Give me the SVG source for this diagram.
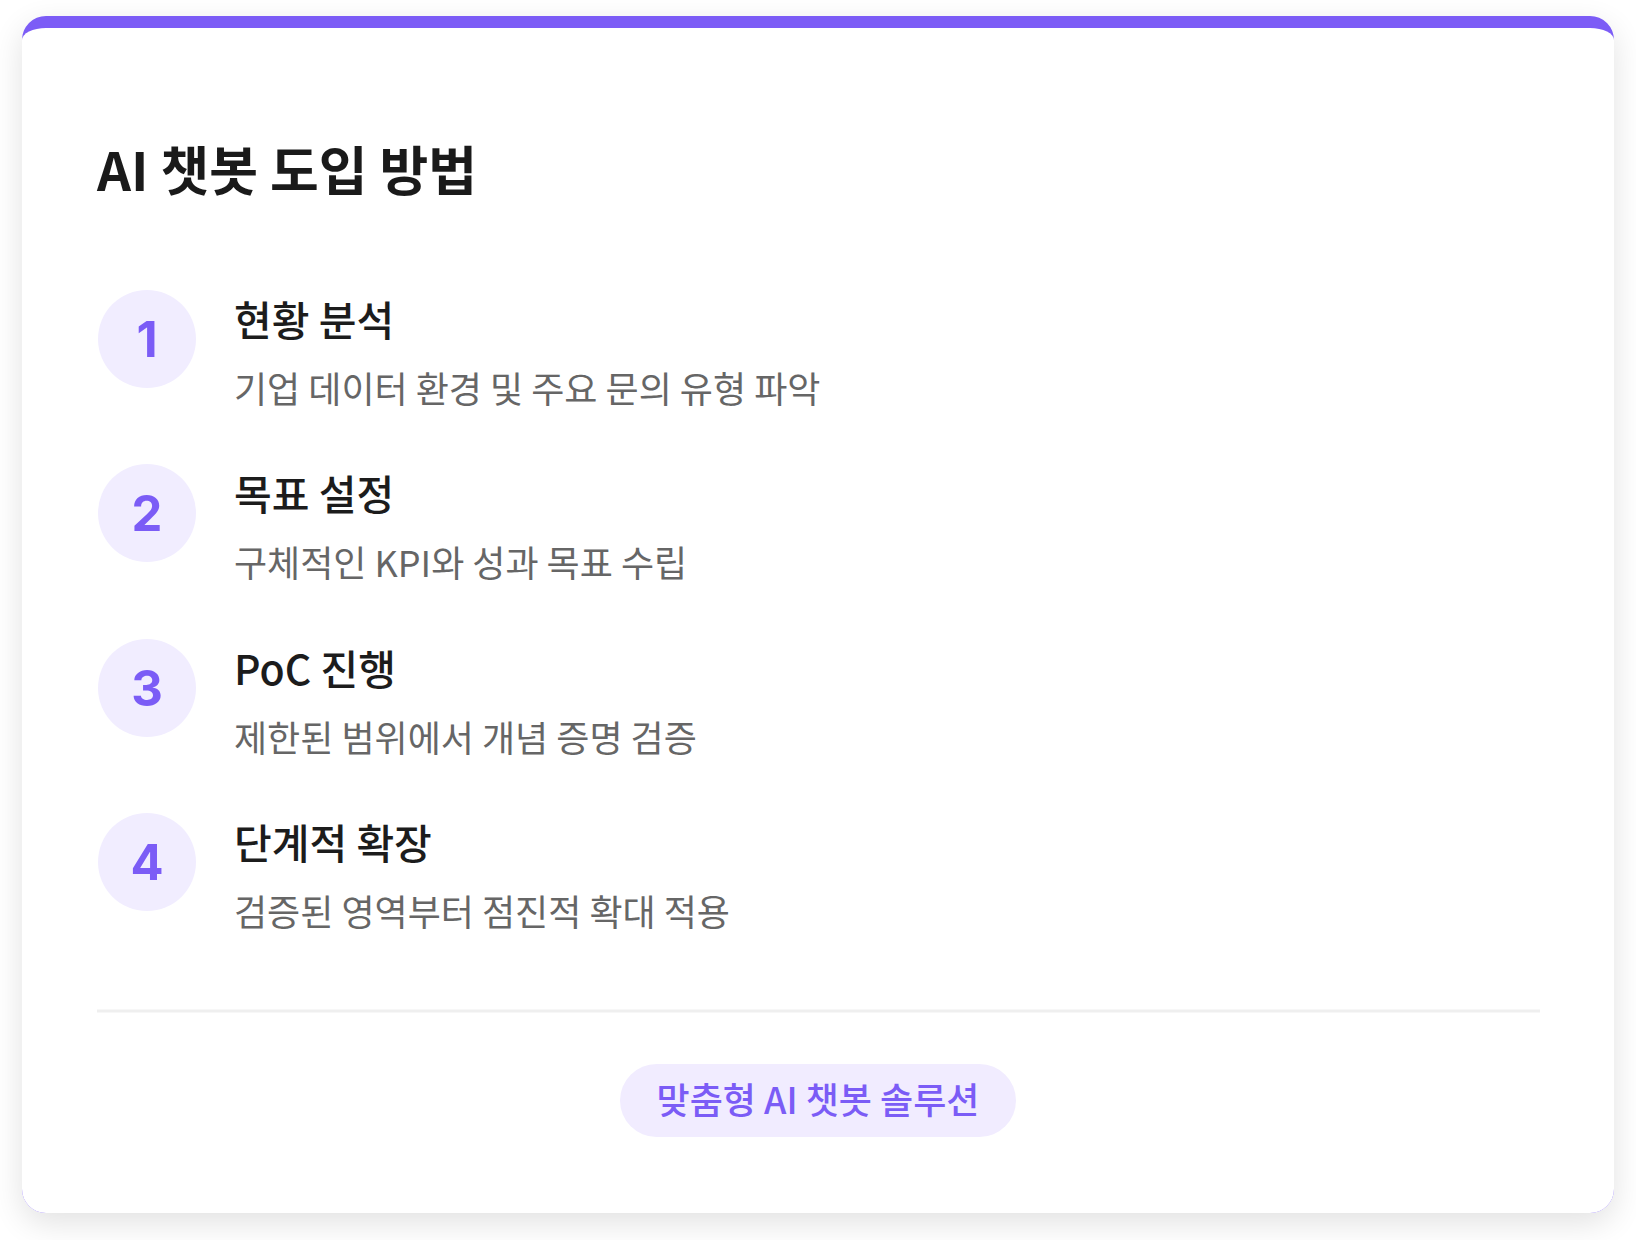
<svg xmlns="http://www.w3.org/2000/svg" width="1636" height="1240" viewBox="0 0 1636 1240">
  <defs>
    <filter id="shadow" x="-10%" y="-10%" width="120%" height="125%">
      <feGaussianBlur in="SourceAlpha" stdDeviation="16"/>
      <feOffset dy="10" result="b"/>
      <feComponentTransfer><feFuncA type="linear" slope="0.12"/></feComponentTransfer>
      <feMerge><feMergeNode/><feMergeNode in="SourceGraphic"/></feMerge>
    </filter>
    <style>
      .kr { font-family: "Noto Sans CJK KR", "Noto Sans", sans-serif; }
      .title { font-size: 53px; font-weight: 700; fill: #1a1a1a; }
      .step-title { font-size: 41px; font-weight: 500; fill: #1c1c1c; }
      .step-desc { font-size: 36px; font-weight: 400; fill: #666666; }
      .badge { fill: #f1edff; }
      .num { font-family: Inter, "Liberation Sans", sans-serif; font-size: 49px; font-weight: 700; fill: #7b5cf6; text-anchor: middle; }
      .pill { fill: #f1ecff; }
      .pill-text { font-size: 36px; font-weight: 500; fill: #7b5cf6; text-anchor: middle; }
    </style>
  </defs>
  <rect width="1636" height="1240" fill="#ffffff"/>

  <g id="card">
    <path filter="url(#shadow)" fill="#7b5cf6" d="M22,1189 V40 A24,24 0 0 1 46,16 H1590 A24,24 0 0 1 1614,40 V1189 A24,24 0 0 1 1590,1213 H46 A24,24 0 0 1 22,1189 Z"/>
    <path fill="#ffffff" d="M22,40 A24,12 0 0 1 46,28 H1590 A24,12 0 0 1 1614,40 V1189 A24,24 0 0 1 1590,1213 H46 A24,24 0 0 1 22,1189 Z"/>
  </g>

  <g id="heading">
    <text class="kr title" x="97" y="191">AI 챗봇 도입 방법</text>
  </g>

  <g id="step1">
    <circle class="badge" cx="147" cy="339" r="49"/>
    <text class="num" x="147" y="357">1</text>
    <text class="kr step-title" x="234" y="336">현황 분석</text>
    <text class="kr step-desc" x="234" y="403">기업 데이터 환경 및 주요 문의 유형 파악</text>
  </g>

  <g id="step2">
    <circle class="badge" cx="147" cy="513" r="49"/>
    <text class="num" x="147" y="531">2</text>
    <text class="kr step-title" x="234" y="510">목표 설정</text>
    <text class="kr step-desc" x="234" y="577">구체적인 KPI와 성과 목표 수립</text>
  </g>

  <g id="step3">
    <circle class="badge" cx="147" cy="688" r="49"/>
    <text class="num" x="147" y="706">3</text>
    <text class="kr step-title" x="234" y="685">PoC 진행</text>
    <text class="kr step-desc" x="234" y="752">제한된 범위에서 개념 증명 검증</text>
  </g>

  <g id="step4">
    <circle class="badge" cx="147" cy="862" r="49"/>
    <text class="num" x="147" y="880">4</text>
    <text class="kr step-title" x="234" y="859">단계적 확장</text>
    <text class="kr step-desc" x="234" y="926">검증된 영역부터 점진적 확대 적용</text>
  </g>

  <g id="connectors"></g>

  <g id="divider">
    <line x1="97" y1="1011" x2="1540" y2="1011" stroke="#efefef" stroke-width="3"/>
  </g>

  <g id="footer-pill">
    <rect class="pill" x="620" y="1064" width="396" height="73" rx="36.5"/>
    <text class="kr pill-text" x="818" y="1114">맞춤형 AI 챗봇 솔루션</text>
  </g>
</svg>
